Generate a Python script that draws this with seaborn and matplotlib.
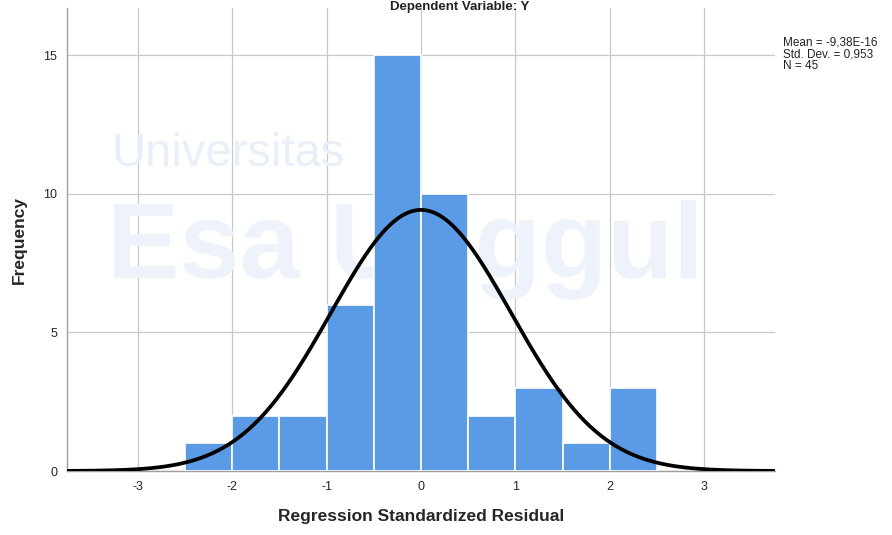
import numpy as np
import pandas as pd
import matplotlib
matplotlib.use("Agg")
import matplotlib.pyplot as plt
import seaborn as sns

# Data
bin_edges = [-2.5, -2.0, -1.5, -1.0, -0.5, 0.0, 0.5, 1.0, 1.5, 2.0, 2.5]
counts = [1, 2, 2, 6, 15, 10, 2, 3, 1, 3]
mean_val = -9.38e-16
std_val = 0.953
n_val = 45
x_ticks = [-3, -2, -1, 0, 1, 2, 3]
y_ticks = [0, 5, 10, 15]

sns.set_style("white")
plt.rcParams['font.family'] = ['Liberation Sans', 'DejaVu Sans']

fig = plt.figure(figsize=(8.92, 5.35), dpi=100)
ax = fig.add_axes([0.0751, 0.1196, 0.7937, 0.8654])
ax.set_facecolor("none")

# faint watermark (behind the bars)
ax.text(0.125, 0.69, "Universitas", fontsize=34, color="#e8eff9",
        transform=fig.transFigure, zorder=1)
ax.text(0.12, 0.48, "Esa Unggul", fontsize=78, fontweight="bold", color="#eef3fb",
        transform=fig.transFigure, zorder=1)

centers = [(bin_edges[i] + bin_edges[i + 1]) / 2 for i in range(len(counts))]
df = pd.DataFrame({"res": centers, "w": counts})
sns.histplot(data=df, x="res", weights="w", bins=bin_edges, ax=ax,
             color="#5b9be6", alpha=1.0, edgecolor="white", linewidth=1.2, zorder=3)

# Normal curve
bw = bin_edges[1] - bin_edges[0]
xs = np.linspace(-3.75, 3.75, 400)
ys = n_val * bw * np.exp(-0.5 * ((xs - mean_val) / std_val) ** 2) / (std_val * np.sqrt(2 * np.pi))
sns.lineplot(x=xs, y=ys, ax=ax, color="black", linewidth=2.7, zorder=4)

ax.set_xlim(-3.75, 3.75)
ax.set_ylim(0, 16.7)
ax.set_xticks(x_ticks)
ax.set_yticks(y_ticks)
ax.set_xticklabels([str(t) for t in x_ticks], fontsize=9)
ax.set_yticklabels([str(t) for t in y_ticks], fontsize=9)
ax.grid(True, color="#c8c8c8", linewidth=0.9, zorder=0)
ax.set_axisbelow(True)
ax.tick_params(length=0, pad=7)
for s in ["top", "right"]:
    ax.spines[s].set_visible(False)
for s in ["left", "bottom"]:
    ax.spines[s].set_color("#a0a0a0")
    ax.spines[s].set_linewidth(1.0)

ax.set_xlabel("Regression Standardized Residual", fontsize=12.5, fontweight="bold", labelpad=12)
ax.set_ylabel("Frequency", fontsize=12.5, fontweight="bold", labelpad=12)

# Title at the very top
fig.text(0.515, 0.999, "Dependent Variable: Y", fontsize=9.5, fontweight="bold",
         ha="center", va="top", color="#222222")

fig.text(0.878, 0.932, "Mean = -9,38E-16\nStd. Dev. = 0,953\nN = 45",
         fontsize=8.5, va="top", ha="left", linespacing=1.0, color="#222222")

fig.savefig("out.png", dpi=100)
